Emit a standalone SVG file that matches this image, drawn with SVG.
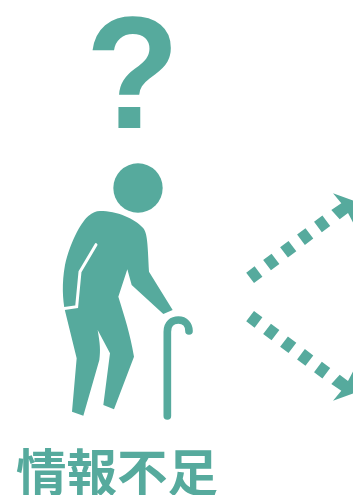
<svg xmlns="http://www.w3.org/2000/svg" width="353" height="495" viewBox="0 0 353 495">
<style>
.teal{fill:#56aa9d}
.dots{fill:none;stroke:#56aa9d;stroke-width:13;stroke-dasharray:10.5 10.7}
.label{fill:#56aa9d;font-family:"Noto Sans CJK JP","Liberation Sans",sans-serif;font-weight:700}
</style>
<rect width="353" height="495" fill="#fff"/>
<g id="question">
<text class="teal" transform="translate(85.5 128) scale(.97 1)" style="font-family:'Liberation Sans',Arial,sans-serif;font-weight:700;font-size:159px">?</text>
</g>
<g id="person">
<g transform="translate(50 150) scale(.33333)">
<circle class="teal" cx="264" cy="114" r="74"/>
<path class="teal" d="M150 183C200 183 255 205 280 235C292 250 293 280 297 365L368 480L340 492L245 405L232 358L205 440C225 505 240 550 252 620L192 778L160 765L180 610L143 540C150 580 152 600 148 630L100 797L66 785L80 625L45 482C38 450 35 400 45 345C60 280 90 220 115 198C128 187 138 183 150 183Z"/>
<path d="M138 284L90 365L80 470L38 476" fill="none" stroke="#fff" stroke-width="9" stroke-linecap="round" stroke-linejoin="miter"/>
<path d="M352 798V545C352 520 368 510 385 510C405 510 417 525 417 543" fill="none" stroke="#56aa9d" stroke-width="23" stroke-linecap="round"/>
</g>
</g>
<g id="connectors">
<g id="arrow-up">
<line class="dots" x1="250.1" y1="277.85" x2="326.3" y2="220.7"/>
<polygon class="teal" points="333,193.3 365,205 358,232 348,213 339.7,219.3 331.3,210 341.3,203.3"/>
</g>
<g id="arrow-down">
<line class="dots" x1="250.1" y1="316.15" x2="326.3" y2="373.3"/>
<polygon class="teal" points="333,400.7 365,389 358,362 348,381 339.7,374.7 331.3,384 341.3,390.7"/>
</g>
</g>
<g id="caption">
<text class="label" x="117" y="491" text-anchor="middle" font-size="50.5">情報不足</text>
</g>
</svg>
